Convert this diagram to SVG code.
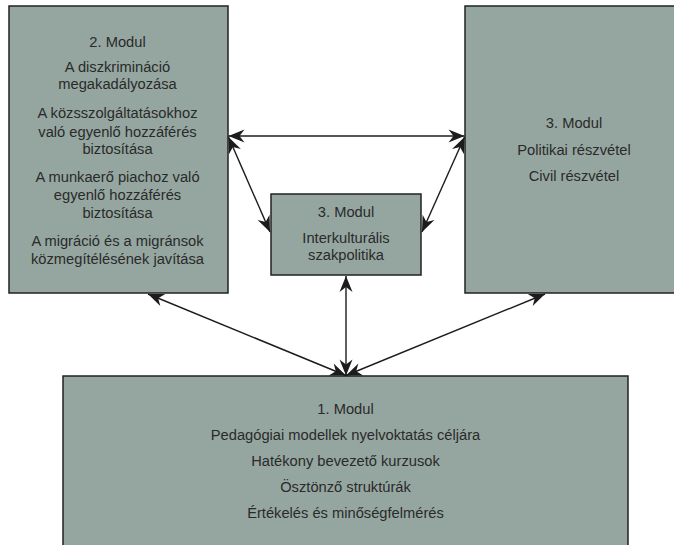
<svg xmlns="http://www.w3.org/2000/svg" width="674" height="545" viewBox="0 0 674 545">
  <style>
    .box { fill: #95a6a0; stroke: #222; stroke-width: 1.5; }
    .t { font-family: "Liberation Sans", Arial, sans-serif; font-size: 14.7px; fill: #2a2a2a; text-anchor: middle; }
    .c { stroke: #1c1c1c; stroke-width: 1.4; fill: none; marker-start: url(#ah); marker-end: url(#ah); }
  </style>
  <defs>
    <marker id="ah" viewBox="-17 -7 18 14" refX="0" refY="0" markerWidth="18" markerHeight="14" markerUnits="userSpaceOnUse" orient="auto-start-reverse">
      <path d="M0,0 L-16,-6.5 L-11,0 L-16,6.5 Z" fill="#1c1c1c"/>
    </marker>
  </defs>
  <rect width="674" height="545" fill="#ffffff"/>

  <g id="modul2">
    <rect class="box" x="9" y="6" width="219" height="287"/>
    <text class="t" x="117.5" y="47">2. Modul</text>
    <text class="t" x="117.5" y="71.7">A diszkrimináció</text>
    <text class="t" x="117.5" y="89">megakadályozása</text>
    <text class="t" x="117.5" y="118.3">A közsszolgáltatásokhoz</text>
    <text class="t" x="117.5" y="136.7">való egyenlő hozzáférés</text>
    <text class="t" x="117.5" y="154">biztosítása</text>
    <text class="t" x="117.5" y="182.3">A munkaerő piachoz való</text>
    <text class="t" x="117.5" y="200">egyenlő hozzáférés</text>
    <text class="t" x="117.5" y="218">biztosítása</text>
    <text class="t" x="117.5" y="245.7">A migráció és a migránsok</text>
    <text class="t" x="117.5" y="264">közmegítélésének javítása</text>
  </g>

  <g id="modul3-politikai">
    <rect class="box" x="465" y="6" width="220" height="287"/>
    <text class="t" x="574" y="128">3. Modul</text>
    <text class="t" x="574" y="154.7">Politikai részvétel</text>
    <text class="t" x="574" y="180.5">Civil részvétel</text>
  </g>

  <g id="modul3-interkulturalis">
    <rect class="box" x="271" y="194" width="150" height="81"/>
    <text class="t" x="346" y="217">3. Modul</text>
    <text class="t" x="346" y="243.3">Interkulturális</text>
    <text class="t" x="346" y="260">szakpolitika</text>
  </g>

  <g id="modul1">
    <rect class="box" x="63" y="376" width="565" height="180"/>
    <text class="t" x="345.5" y="414">1. Modul</text>
    <text class="t" x="345.5" y="440">Pedagógiai modellek nyelvoktatás céljára</text>
    <text class="t" x="345.5" y="466">Hatékony bevezető kurzusok</text>
    <text class="t" x="345.5" y="492">Ösztönző struktúrák</text>
    <text class="t" x="345.5" y="518">Értékelés és minőségfelmérés</text>
  </g>

  <g id="connectors">
    <line class="c" x1="228.5" y1="136" x2="464.5" y2="136"/>
    <line class="c" x1="228.5" y1="137" x2="270" y2="232"/>
    <line class="c" x1="464.5" y1="137" x2="422" y2="232"/>
    <line class="c" x1="148" y1="294" x2="346" y2="375.5"/>
    <line class="c" x1="346" y1="276" x2="346" y2="375.5"/>
    <line class="c" x1="545" y1="294" x2="346" y2="375.5"/>
  </g>
</svg>
